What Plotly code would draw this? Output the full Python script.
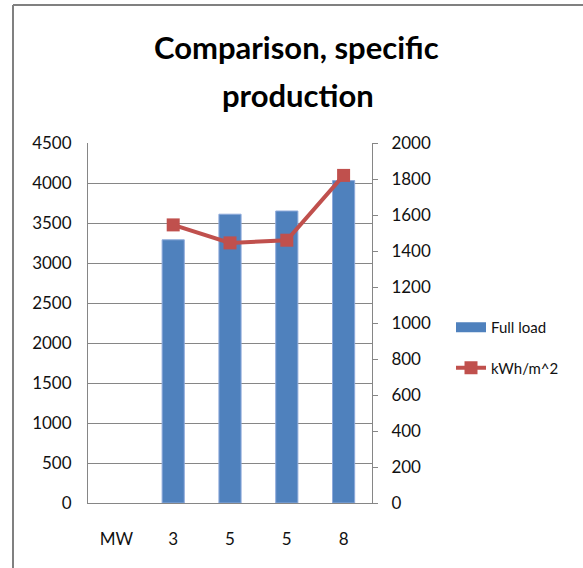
import plotly.graph_objects as go

# Chart data
categories = ["MW", "3", "5", "5", "8"]
full_load = [None, 3290, 3610, 3650, 4030]
kwh_per_m2 = [None, 1545, 1445, 1460, 1820]

left_ticks = [0, 500, 1000, 1500, 2000, 2500, 3000, 3500, 4000, 4500]
right_ticks = [0, 200, 400, 600, 800, 1000, 1200, 1400, 1600, 1800, 2000]

W, H = 583, 568
L, R, T, B = 88, 211, 143, 65
pw, ph = W - L - R, H - T - B


def px(x):
    return (x - L) / pw


def py(y):
    return (H - B - y) / ph


BLUE = "#4F81BD"
RED = "#C0504D"
GRID = "#868686"
FONT = "Lato"

xpos = list(range(len(categories)))

fig = go.Figure()

fig.add_trace(go.Bar(
    x=xpos, y=full_load, name="Full load",
    marker=dict(color=BLUE, line=dict(color="#8EAADB", width=1)),
    width=0.39, showlegend=False, legendgroup="a",
))
# legend entry for the bars, drawn as a wide block
fig.add_trace(go.Scatter(
    x=[None], y=[None], mode="lines", name="Full load",
    line=dict(color=BLUE, width=11), legendgroup="a",
))
fig.add_trace(go.Scatter(
    x=xpos, y=kwh_per_m2, name="kWh/m^2", yaxis="y2",
    mode="lines+markers",
    line=dict(color=RED, width=4),
    marker=dict(symbol="square", size=13, color=RED),
    legendgroup="b",
))

fig.update_layout(
    width=W, height=H,
    margin=dict(l=L, r=R, t=T, b=B, autoexpand=False),
    paper_bgcolor="white", plot_bgcolor="white",
    font=dict(family=FONT, size=17, color="#111111"),
    bargap=0.6,
    xaxis=dict(
        range=[-0.5, len(categories) - 0.5],
        tickmode="array", tickvals=xpos, ticktext=categories,
        showline=True, linecolor=GRID, linewidth=1,
        showgrid=False, ticks="", ticklabelstandoff=21,
        zeroline=False,
    ),
    yaxis=dict(
        range=[0, 4500], tickmode="array", tickvals=left_ticks,
        showgrid=True, gridcolor=GRID, gridwidth=1,
        showline=True, linecolor=GRID, linewidth=1,
        ticks="", ticklabelstandoff=12, zeroline=False,
    ),
    yaxis2=dict(
        range=[0, 2000], tickmode="array", tickvals=right_ticks,
        overlaying="y", side="right", showgrid=False,
        showline=True, linecolor=GRID, linewidth=1,
        ticks="outside", ticklen=5, tickcolor=GRID,
        ticklabelstandoff=10, zeroline=False,
    ),
    legend=dict(
        x=px(451), y=py(311), xanchor="left", yanchor="top",
        font=dict(family=FONT, size=15, color="#111111"),
        bgcolor="rgba(0,0,0,0)", traceorder="grouped",
        tracegroupgap=18, itemwidth=30,
    ),
    annotations=[
        dict(text="Comparison, specific", x=px(296), y=py(47),
             xref="paper", yref="paper", xanchor="center", yanchor="middle",
             showarrow=False,
             font=dict(family=FONT, size=31, color="black", weight="bold")),
        dict(text="production", x=px(298), y=py(95),
             xref="paper", yref="paper", xanchor="center", yanchor="middle",
             showarrow=False,
             font=dict(family=FONT, size=31, color="black", weight="bold")),
    ],
    shapes=[
        dict(type="line", xref="paper", yref="paper",
             x0=px(13), y0=py(H), x1=px(13), y1=py(5),
             line=dict(color="#808080", width=2)),
        dict(type="line", xref="paper", yref="paper",
             x0=px(13), y0=py(5), x1=px(W), y1=py(5),
             line=dict(color="#808080", width=2)),
    ],
)

fig.write_html("out.html")
